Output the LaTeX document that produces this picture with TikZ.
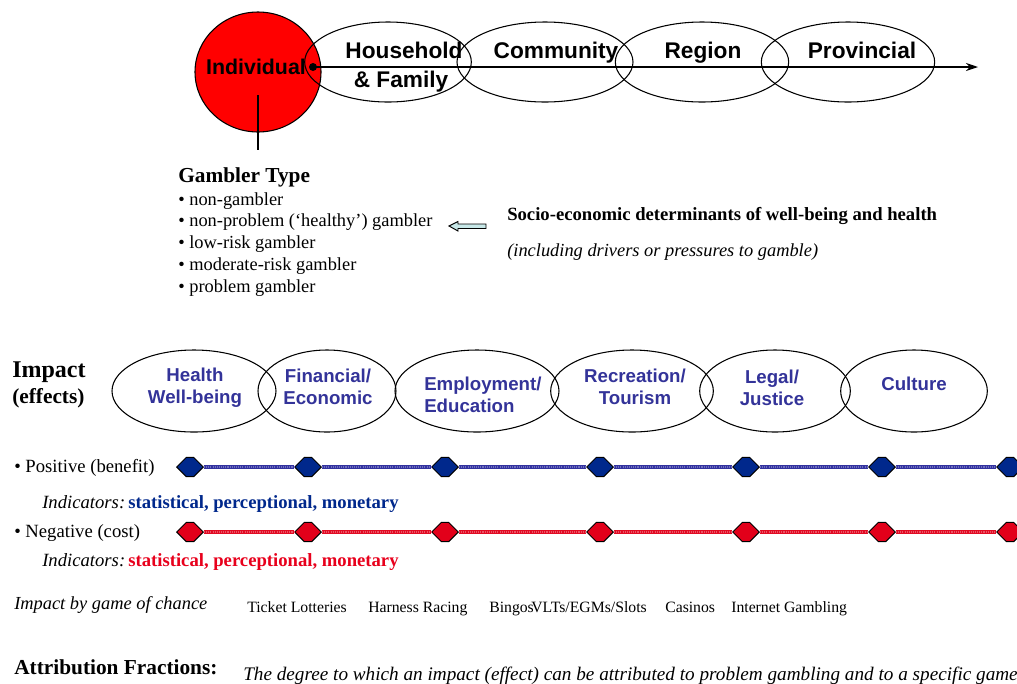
\documentclass[tikz,border=0pt]{standalone}
\usepackage{fontspec}
\setmainfont{Liberation Serif}
\newfontfamily\arialf{Liberation Sans}
\usetikzlibrary{shapes.geometric,shapes.symbols,arrows.meta}
\definecolor{ellblue}{RGB}{51,51,153}
\definecolor{hexblue}{RGB}{0,40,140}
\definecolor{hexred}{RGB}{226,0,26}
\definecolor{indblue}{RGB}{0,40,140}
\definecolor{indred}{RGB}{232,0,28}
\definecolor{lineblue}{RGB}{50,50,160}
\definecolor{linered}{RGB}{225,10,35}
\definecolor{arrowfill}{RGB}{200,232,232}
\begin{document}
\begin{tikzpicture}[x=0.75pt,y=-0.75pt,
  ell/.style={ellipse,draw,line width=0.8pt,inner sep=0pt,outer sep=0pt},
  toplbl/.style={font=\arialf\bfseries\fontsize{17}{21.5}\selectfont,inner sep=0pt,anchor=base},
  implbl/.style={font=\arialf\bfseries\fontsize{14}{16.5}\selectfont,text=ellblue,inner sep=0pt},
  txt/.style={inner sep=0pt,anchor=base west},
  hexb/.style={signal,signal to=east and west,signal pointer angle=90,draw=black,line width=0.7pt,fill=hexblue,minimum width=20pt,minimum height=14.5pt,inner sep=0pt},
  hexr/.style={hexb,fill=hexred},
  posline/.style={draw=lineblue,line width=2.4pt,postaction={draw=lineblue!70!white,line width=1pt,dash pattern=on 0.8pt off 0.8pt}},
  negline/.style={draw=linered,line width=2.4pt,postaction={draw=linered!70!white,line width=1pt,dash pattern=on 0.8pt off 0.8pt}},
]
\clip (0,0) rectangle (1017,683);
\fill[white] (0,0) rectangle (1017,683);

% ---- top row
\node[ell,fill=red,minimum width=94.5pt,minimum height=90pt] (indiv) at (258,72) {};
\node[ell,minimum width=125pt,minimum height=60pt] (house) at (388,62) {};
\node[ell,minimum width=132pt,minimum height=60pt] (comm) at (545,62) {};
\node[ell,minimum width=130pt,minimum height=60pt] (region) at (702,62) {};
\node[ell,minimum width=130pt,minimum height=60pt] (prov) at (848,62) {};
\node[toplbl,font=\arialf\bfseries\fontsize{16}{20}\selectfont] (tindiv) at (256,74) {Individual};
\node[toplbl] (thouse) at (404,58.5) {Household};
\node[toplbl] (tfamily) at (401,87.5) {\& Family};
\node[toplbl] (tcomm) at (556,58.5) {Community};
\node[toplbl] (tregion) at (703,58.5) {Region};
\node[toplbl] (tprov) at (862,58.5) {Provincial};
\node[circle,fill=black,inner sep=0pt,minimum size=6pt] (dot) at (313,67) {};
\coordinate (axisend) at (978,67);
\draw[line width=0.8pt,-{Stealth[length=9pt,width=6pt]}] (dot.center) -- (axisend);
\coordinate (stemtop) at (258,95);
\coordinate (stembot) at (258,150);
\draw[line width=0.8pt] (stemtop) -- (stembot);

% ---- gambler type
\node[txt,font=\bfseries\fontsize{16}{18}\selectfont] (gtype) at (178,182) {Gambler Type};
\node[txt,font=\fontsize{13.8}{16}\selectfont] (g1) at (178,205) {\textbullet\ non-gambler};
\node[txt,font=\fontsize{13.8}{16}\selectfont] (g2) at (178,226) {\textbullet\ non-problem (‘healthy’) gambler};
\node[txt,font=\fontsize{13.8}{16}\selectfont] (g3) at (178,248) {\textbullet\ low-risk gambler};
\node[txt,font=\fontsize{13.8}{16}\selectfont] (g4) at (178,270) {\textbullet\ moderate-risk gambler};
\node[txt,font=\fontsize{13.8}{16}\selectfont] (g5) at (178,292) {\textbullet\ problem gambler};

% hollow arrow
\draw[fill=arrowfill,line width=0.7pt] (449,226) -- (458,221.5) -- (458,224) -- (486,224) -- (486,228.5) -- (458,228.5) -- (458,231) -- cycle;

\node[txt,font=\bfseries\fontsize{14}{16}\selectfont] (socio) at (507,220) {Socio-economic determinants of well-being and health};
\node[txt,font=\itshape\fontsize{13.8}{16}\selectfont] (incl) at (507,256) {(including drivers or pressures to gamble)};

% ---- impact row
\node[txt,font=\bfseries\fontsize{18}{21}\selectfont] (impact) at (12,377) {Impact};
\node[txt,font=\bfseries\fontsize{16}{19}\selectfont] (effects) at (12,403) {(effects)};

\node[ell,minimum width=123pt,minimum height=61.5pt] (health) at (194,391) {};
\node[ell,minimum width=103.5pt,minimum height=61.5pt] (fin) at (327,391) {};
\node[ell,minimum width=123pt,minimum height=61.5pt] (emp) at (477,391) {};
\node[ell,minimum width=122pt,minimum height=61.5pt] (rec) at (632,391) {};
\node[ell,minimum width=113pt,minimum height=61.5pt] (legal) at (775,391) {};
\node[ell,minimum width=110pt,minimum height=61.5pt] (culture) at (914,391) {};

\node[implbl,align=center] (thealth) at (195,387.5) {Health\\Well-being};
\node[implbl,align=center] (tfin) at (328,386.5) {Financial/\\Economic};
\node[implbl,align=left,anchor=west] (temp) at (424,394.5) {Employment/\\Education};
\node[implbl,align=center] (trec) at (635,386.5) {Recreation/\\Tourism};
\node[implbl,align=center] (tlegal) at (772,387.5) {Legal/\\Justice};
\node[implbl] (tculture) at (914,384) {Culture};

% ---- positive / negative
\node[txt,font=\fontsize{14}{16}\selectfont] (pos) at (14,472) {\textbullet\ Positive (benefit)};
\foreach \i/\x in {1/190,2/308,3/445,4/600,5/746,6/882,7/1010}{
  \node[hexb] (p\i) at (\x,467) {};
  \node[hexr] (n\i) at (\x,532) {};
}
\coordinate (pend) at (1040,467);
\coordinate (nend) at (1040,532);
\draw[posline] (p1) -- (p2) (p2) -- (p3) (p3) -- (p4) (p4) -- (p5) (p5) -- (p6) (p6) -- (p7) (p7) -- (pend);
\draw[negline] (n1) -- (n2) (n2) -- (n3) (n3) -- (n4) (n4) -- (n5) (n5) -- (n6) (n6) -- (n7) (n7) -- (nend);

\node[txt,font=\fontsize{14}{16}\selectfont] (indp) at (42,508) {\textit{Indicators:}\,\textbf{\color{indblue}statistical, perceptional, monetary}};
\node[txt,font=\fontsize{14}{16}\selectfont] (neg) at (14,537) {\textbullet\ Negative (cost)};
\node[txt,font=\fontsize{14}{16}\selectfont] (indn) at (42,566) {\textit{Indicators:}\,\textbf{\color{indred}statistical, perceptional, monetary}};

% ---- game of chance
\node[txt,font=\itshape\fontsize{13.8}{16}\selectfont] (game) at (14,609) {Impact by game of chance};
\node[txt,font=\fontsize{11.8}{13}\selectfont] (lott) at (247,612) {Ticket Lotteries};
\node[txt,font=\fontsize{11.8}{13}\selectfont] (harn) at (368,612) {Harness Racing};
\node[txt,font=\fontsize{11.8}{13}\selectfont] (bing) at (489,612) {Bingos};
\node[txt,font=\fontsize{11.8}{13}\selectfont] (vlt) at (531,612) {VLTs/EGMs/Slots};
\node[txt,font=\fontsize{11.8}{13}\selectfont] (cas) at (665,612) {Casinos};
\node[txt,font=\fontsize{11.8}{13}\selectfont] (inet) at (731,612) {Internet Gambling};

% ---- attribution
\node[txt,font=\bfseries\fontsize{16}{19}\selectfont] (attr) at (14,674) {Attribution Fractions:};
\node[txt,font=\itshape\fontsize{14.4}{16}\selectfont] (degree) at (243,680) {The degree to which an impact (effect) can be attributed to problem gambling and to a specific game};
\end{tikzpicture}
\end{document}
